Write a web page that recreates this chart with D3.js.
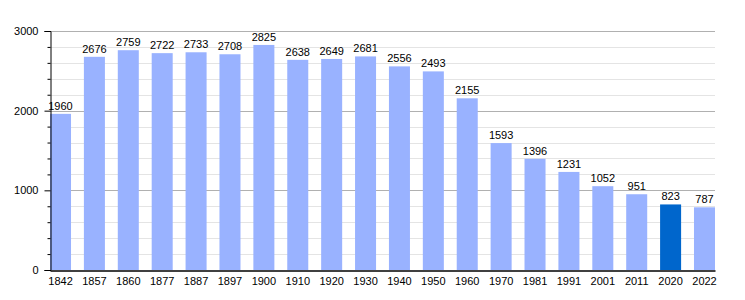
<!DOCTYPE html>
<html>
<head>
<meta charset="utf-8">
<script src="https://d3js.org/d3.v7.min.js"></script>
<style>
  body { margin: 0; background: #fff; }
  text { font-family: "Liberation Sans", Arial, sans-serif; font-size: 11px; fill: #000; }
</style>
</head>
<body>
<div id="chart"></div>
<script>
var years = ["1842","1857","1860","1877","1887","1897","1900","1910","1920","1930","1940","1950","1960","1970","1981","1991","2001","2011","2020","2022"];
var population = [1960,2676,2759,2722,2733,2708,2825,2638,2649,2681,2556,2493,2155,1593,1396,1231,1052,951,823,787];
var highlightYear = "2020";
var majorTicks = [0, 1000, 2000, 3000];
var minorTicks = [200, 400, 600, 800, 1200, 1400, 1600, 1800, 2200, 2400, 2600, 2800];

var width = 745, height = 300;
var mLeft = 50, mRight = 715, mTop = 31, mBottom = 270;

var svg = d3.select("#chart").append("svg")
  .attr("width", width)
  .attr("height", height);

var x = d3.scaleBand()
  .domain(years)
  .range([mLeft, mRight])
  .paddingInner(0.38)
  .paddingOuter(0);

var y = d3.scaleLinear()
  .domain([0, 3000])
  .range([mBottom, mTop]);

// minor grid
svg.selectAll(".minor")
  .data(minorTicks)
  .enter().append("line")
  .attr("x1", mLeft).attr("x2", mRight)
  .attr("y1", function(d) { return Math.round(y(d)) + 0.5; })
  .attr("y2", function(d) { return Math.round(y(d)) + 0.5; })
  .attr("stroke", "#e4e4e4");

// major grid
svg.selectAll(".major")
  .data(majorTicks.slice(1))
  .enter().append("line")
  .attr("x1", mLeft).attr("x2", mRight)
  .attr("y1", function(d) { return Math.round(y(d)) + 0.5; })
  .attr("y2", function(d) { return Math.round(y(d)) + 0.5; })
  .attr("stroke", "#b0b0b0");

// bars
svg.selectAll(".bar")
  .data(population)
  .enter().append("rect")
  .attr("x", function(d, i) { return x(years[i]); })
  .attr("width", x.bandwidth())
  .attr("y", function(d) { return y(d); })
  .attr("height", function(d) { return mBottom - y(d); })
  .attr("fill", function(d, i) { return years[i] === highlightYear ? "#0066cc" : "#99b2ff"; });

// value labels
svg.selectAll(".val")
  .data(population)
  .enter().append("text")
  .attr("x", function(d, i) { return x(years[i]) + x.bandwidth() / 2; })
  .attr("y", function(d) { return y(d) - 4; })
  .attr("text-anchor", "middle")
  .text(function(d) { return d; });

// y axis
var yAxis = svg.append("g")
  .attr("transform", "translate(" + (mLeft + 0.5) + ",0)")
  .call(d3.axisLeft(y).tickValues(majorTicks).tickSize(6).tickPadding(6).tickFormat(d3.format("d")));
yAxis.select(".domain").attr("stroke", "#000");
yAxis.selectAll(".tick line").attr("stroke", "#000");
yAxis.selectAll("text").style("font-size", "11px");

svg.append("g")
  .attr("transform", "translate(" + (mLeft + 0.5) + ",0)")
  .call(d3.axisLeft(y).tickValues(minorTicks).tickSize(3).tickFormat(""))
  .call(function(g) { g.select(".domain").remove(); })
  .selectAll(".tick line").attr("stroke", "#000");

// x axis
var xAxis = svg.append("g")
  .attr("transform", "translate(0," + (mBottom + 0.5) + ")")
  .call(d3.axisBottom(x).tickSize(0).tickPadding(7));
xAxis.select(".domain").attr("stroke", "#000").attr("stroke-width", 1.5);
xAxis.selectAll("text").style("font-size", "11px");
</script>
</body>
</html>
